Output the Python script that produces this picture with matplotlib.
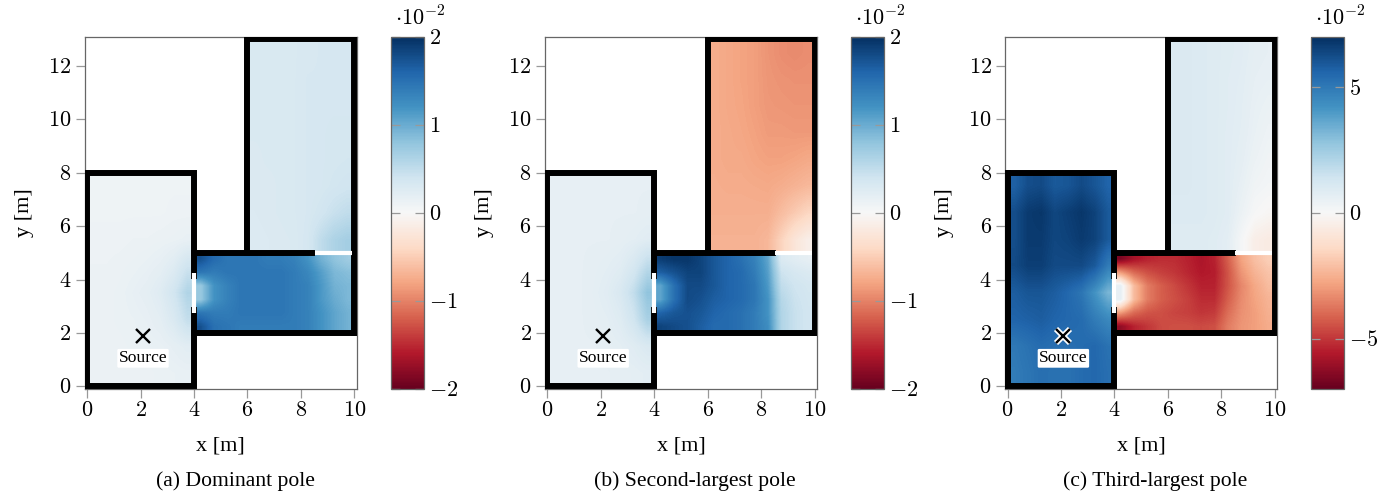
import numpy as np
import matplotlib
matplotlib.use("Agg")
import matplotlib.pyplot as plt

plt.rcParams['font.family'] = ['Liberation Serif', 'DejaVu Serif']
plt.rcParams['mathtext.fontset'] = 'cm'

# values in units of 1e-2, rows go from bottom to top
room1_a = [
    [.12, .12, .12, .12, .12, .13, .14, .15],
    [.12, .12, .12, .13, .14, .15, .18, .22],
    [.12, .12, .13, .14, .16, .2, .3, .48],
    [.12, .12, .13, .16, .19, .25, .38, .6],
    [.11, .11, .12, .13, .15, .18, .25, .4],
    [.1, .1, .1, .11, .11, .12, .13, .15],
    [.09, .09, .09, .09, .09, .09, .1, .1],
    [.09, .09, .09, .09, .09, .09, .09, .09],
]
hall_a = [
    [1.75, 1.5, 1.45, 1.4, 1.4, 1.4, 1.4, 1.4, 1.35, 1.2, 1.05, .95],
    [1.45, 1.4, 1.4, 1.45, 1.45, 1.45, 1.45, 1.4, 1.35, 1.2, 1.05, .95],
    [.75, 1.2, 1.35, 1.45, 1.45, 1.45, 1.45, 1.4, 1.35, 1.15, 1.0, .9],
    [.75, 1.2, 1.35, 1.45, 1.45, 1.45, 1.45, 1.4, 1.35, 1.15, .95, .9],
    [1.45, 1.4, 1.45, 1.45, 1.45, 1.45, 1.45, 1.4, 1.3, 1.1, .9, .85],
    [1.75, 1.55, 1.45, 1.45, 1.45, 1.4, 1.4, 1.35, 1.2, .95, .8, .7],
]
room3_a = [
    [.27, .28, .29, .3, .34, .5, .62, .68],
    [.28, .29, .3, .31, .33, .38, .45, .5],
    [.29, .29, .3, .31, .33, .34, .37, .39],
    [.29, .3, .3, .31, .33, .34, .35, .36],
    [.3, .3, .3, .31, .33, .34, .35, .35],
    [.3, .3, .3, .31, .33, .34, .34, .34],
    [.3, .3, .3, .31, .33, .33, .33, .33],
    [.3, .3, .3, .31, .32, .33, .33, .33],
]

room1_b = [
    [.17, .17, .17, .17, .17, .18, .19, .21],
    [.17, .17, .17, .17, .18, .2, .24, .3],
    [.17, .17, .17, .18, .2, .25, .39, .65],
    [.17, .17, .17, .19, .23, .31, .49, .8],
    [.17, .17, .17, .18, .2, .23, .33, .52],
    [.17, .17, .17, .17, .17, .18, .2, .23],
    [.17, .17, .17, .17, .17, .17, .17, .18],
    [.17, .17, .17, .17, .17, .17, .17, .17],
]
hall_b = [
    [1.85, 1.8, 1.75, 1.65, 1.55, 1.55, 1.5, 1.4, 1.25, .6, .45, .38],
    [1.6, 1.7, 1.75, 1.7, 1.6, 1.55, 1.5, 1.4, 1.2, .6, .45, .38],
    [1.05, 1.5, 1.8, 1.75, 1.65, 1.6, 1.55, 1.45, 1.2, .57, .43, .37],
    [1.05, 1.5, 1.8, 1.8, 1.7, 1.6, 1.55, 1.45, 1.15, .5, .4, .35],
    [1.65, 1.75, 1.85, 1.85, 1.7, 1.6, 1.55, 1.4, 1.1, .42, .33, .29],
    [1.9, 1.95, 1.95, 1.85, 1.7, 1.6, 1.5, 1.35, 1.05, .28, .22, .17],
]
room3_b = [
    [-.7, -.7, -.7, -.7, -.66, -.45, -.25, -.12],
    [-.72, -.72, -.72, -.72, -.72, -.62, -.52, -.42],
    [-.73, -.74, -.74, -.75, -.76, -.73, -.69, -.65],
    [-.74, -.76, -.76, -.79, -.81, -.81, -.79, -.76],
    [-.74, -.76, -.78, -.81, -.85, -.85, -.86, -.86],
    [-.74, -.77, -.79, -.83, -.87, -.88, -.89, -.89],
    [-.74, -.77, -.8, -.83, -.88, -.9, -.91, -.91],
    [-.74, -.77, -.8, -.83, -.89, -.93, -.95, -.93],
]

room1_c = [
    [4.9, 5.1, 5.3, 5.2, 5.2, 5.4, 5.5, 5.3],
    [5.0, 5.2, 5.4, 5.3, 5.3, 5.4, 5.5, 5.2],
    [5.6, 5.7, 5.8, 5.6, 5.5, 5.4, 4.9, 4.5],
    [5.8, 6.0, 6.0, 5.8, 5.5, 5.1, 4.2, 3.2],
    [6.3, 6.6, 6.6, 6.3, 6.3, 6.3, 5.9, 4.9],
    [6.2, 6.7, 6.7, 6.4, 6.5, 6.7, 6.5, 5.9],
    [6.2, 6.7, 6.8, 6.4, 6.6, 6.8, 6.5, 5.9],
    [5.7, 6.2, 6.3, 5.9, 6.0, 6.3, 6.0, 5.6],
]
hall_c = [
    [-6.2, -5.4, -5.0, -4.6, -4.5, -4.5, -4.6, -4.5, -3.6, -3.1, -2.9, -2.6],
    [-3.0, -4.0, -4.4, -4.5, -4.7, -4.8, -5.0, -4.9, -3.9, -3.2, -2.9, -2.5],
    [.6, -2.2, -3.6, -4.2, -4.5, -4.8, -5.2, -5.2, -4.2, -3.3, -2.8, -2.4],
    [.6, -2.2, -3.6, -4.2, -4.6, -5.0, -5.4, -5.4, -4.4, -3.4, -2.7, -2.2],
    [-3.0, -4.0, -4.5, -4.8, -5.0, -5.3, -5.6, -5.5, -4.4, -3.1, -2.4, -2.0],
    [-6.6, -5.8, -5.4, -5.2, -5.2, -5.4, -5.7, -5.4, -4.2, -2.8, -2.1, -1.7],
]
room3_c = [
    [.9, .9, .9, .85, .7, .1, -.45, -.6],
    [.95, .95, .95, .9, .8, .4, .05, -.1],
    [1.0, 1.0, .95, .9, .8, .55, .25, .15],
    [1.0, 1.0, .95, .9, .8, .65, .4, .25],
    [1.0, 1.0, .95, .9, .8, .7, .5, .35],
    [1.0, 1.0, .95, .9, .82, .72, .55, .45],
    [1.0, 1.0, .95, .9, .82, .75, .6, .55],
    [1.0, 1.0, .95, .9, .85, .78, .65, .6],
]

room1_vals = [room1_a, room1_b, room1_c]
hall_vals = [hall_a, hall_b, hall_c]
room3_vals = [room3_a, room3_b, room3_c]
scales = [2, 2, 7]
cbar_ticks = [[-2, -1, 0, 1, 2], [-2, -1, 0, 1, 2], [-5, 0, 5]]
captions = ["(a) Dominant pole", "(b) Second-largest pole", "(c) Third-largest pole"]

x_ticks = [0, 2, 4, 6, 8, 10]
y_ticks = [0, 2, 4, 6, 8, 10, 12]
source = (2.09, 1.9)

room1_box = (0, 4, 0, 8)
hall_box = (4, 10, 2, 5)
room3_box = (6, 10, 5, 13)
# wall ends next to an opening stop short, the projecting cap brings them to the edge
walls = [
    ([0, 4, 4], [8, 8, 4.15]),
    ([4, 4, 0, 0], [2.85, 0, 0, 8]),
    ([4, 10], [2, 2]),
    ([4, 8.43], [5, 5]),
    ([6, 6, 10, 10], [5, 13, 13, 2]),
]
openings = [([4, 4], [2.75, 4.25]), ([8.53, 9.9], [5, 5])]

W, H = 1390, 493
GREY = '#999999'
SPINE = '#666666'


def px_axes(fig, left, right, top, bottom):
    return fig.add_axes([left / W, 1 - bottom / H, (right - left) / W, (bottom - top) / H])


def main():
    fig = plt.figure(figsize=(W / 100, H / 100), dpi=100)
    for i in range(3):
        off = i * 460.2
        ax = px_axes(fig, 84.5 + off, 357 + off, 36.7, 389)
        v = scales[i]
        for vals, box in zip([room1_vals[i], hall_vals[i], room3_vals[i]],
                             [room1_box, hall_box, room3_box]):
            im = ax.imshow(vals, origin='lower', extent=box, cmap='RdBu', vmin=-v, vmax=v,
                           interpolation='bilinear', aspect='auto')
        for xs, ys in walls:
            ax.plot(xs, ys, color='black', lw=4.3, solid_capstyle='projecting',
                    solid_joinstyle='miter', zorder=3)
        for xs, ys in openings:
            ax.plot(xs, ys, color='white', lw=3.0, solid_capstyle='butt', zorder=3)
        if i == 2:
            ax.plot(*source, marker='x', ms=10.5, mew=4.2, color='white', zorder=4)
        ax.plot(*source, marker='x', ms=10.5, mew=1.7, color='black', zorder=5)
        ax.text(source[0], source[1] - 0.85, "Source", fontsize=12.6, ha='center', va='center', zorder=5,
                bbox=dict(boxstyle='round,pad=0.08', fc='white', ec='none'))
        ax.set_xlim(-0.1, 10.1)
        ax.set_ylim(-0.1, 13.1)
        ax.set_xticks(x_ticks)
        ax.set_xticklabels(["$%d$" % t for t in x_ticks])
        ax.set_yticks(y_ticks)
        ax.set_yticklabels(["$%d$" % t for t in y_ticks])
        ax.tick_params(length=6.5, width=0.9, color=GREY, labelsize=16, pad=3)
        for s in ax.spines.values():
            s.set_color(SPINE)
            s.set_linewidth(0.9)
        ax.set_xlabel("x [m]", fontsize=16, labelpad=11)
        ax.set_ylabel("y [m]", fontsize=16, labelpad=10)

        cax = px_axes(fig, 391 + off, 423.5 + off, 36.7, 389)
        cb = fig.colorbar(im, cax=cax)
        cb.set_ticks(cbar_ticks[i])
        cb.set_ticklabels([("$%d$" % t) for t in cbar_ticks[i]])
        cax.tick_params(direction='in', left=True, right=True, length=6.5, width=0.9,
                        color=GREY, labelsize=16, pad=4)
        cb.outline.set_edgecolor(SPINE)
        cb.outline.set_linewidth(0.9)
        fig.text((420 + off) / W, 1 - 18 / H, r"$\cdot 10^{-2}$", fontsize=16, ha='center', va='center')
        fig.text((235 + off) / W, 1 - 481 / H, captions[i], fontsize=15.6, ha='center', va='center')

    fig.savefig("out.png", dpi=100)


if __name__ == "__main__":
    main()
